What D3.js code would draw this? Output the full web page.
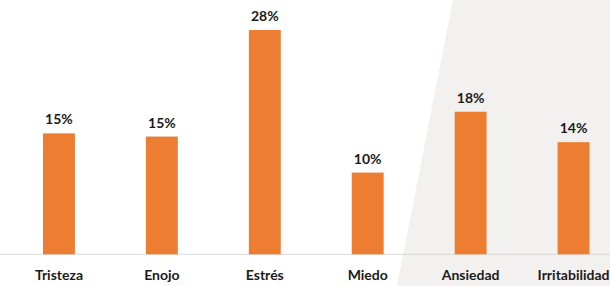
<!DOCTYPE html>
<html>
<head>
<meta charset="utf-8">
<script src="https://cdn.jsdelivr.net/npm/d3@7"></script>
<style>
  html, body { margin: 0; padding: 0; background: #fff; overflow: hidden; }
  text { font-family: Lato, "Open Sans", sans-serif; font-weight: bold; fill: #1b1b1b; }
</style>
</head>
<body>
<div id="chart"></div>
<script>
const categories = ["Tristeza", "Enojo", "Estrés", "Miedo", "Ansiedad", "Irritabilidad"];
const values = [15.1, 14.7, 28.0, 10.2, 17.8, 14.0];
const valueLabels = ["15%", "15%", "28%", "10%", "18%", "14%"];

const width = 610, height = 286;
const baseY = 254.3;

const svg = d3.select("#chart").append("svg")
  .attr("width", width)
  .attr("height", height);

// grey slanted panel in the background
svg.append("polygon")
  .attr("points", `453,0 ${width},0 ${width},${height} 397,${height}`)
  .attr("fill", "#f2f1f0");

const x = d3.scaleBand()
  .domain(categories)
  .range([7.5, 625])
  .paddingInner(0.69)
  .paddingOuter(0.345);

const y = d3.scaleLinear()
  .domain([0, 30])
  .range([baseY, baseY - 240.3]);

const data = categories.map((c, i) => ({ cat: c, v: values[i], label: valueLabels[i] }));

// baseline
svg.append("line")
  .attr("x1", 0).attr("x2", width)
  .attr("y1", baseY).attr("y2", baseY)
  .attr("stroke", "#d9d9d9")
  .attr("stroke-width", 1);

svg.append("g").selectAll("rect")
  .data(data)
  .join("rect")
  .attr("x", d => x(d.cat))
  .attr("width", x.bandwidth())
  .attr("y", d => y(d.v))
  .attr("height", d => y(0) - y(d.v))
  .attr("fill", "#ed7d31");

svg.append("g").selectAll("text")
  .data(data)
  .join("text")
  .attr("x", d => x(d.cat) + x.bandwidth() / 2)
  .attr("y", d => y(d.v) - 9)
  .attr("text-anchor", "middle")
  .attr("font-size", 14)
  .text(d => d.label);

const xAxis = d3.axisBottom(x).tickSize(0).tickPadding(16);
const ax = svg.append("g")
  .attr("transform", `translate(0,${baseY})`)
  .call(xAxis);
ax.select(".domain").remove();
ax.selectAll("text")
  .attr("font-size", 14)
  .style("font-family", "Lato, 'Open Sans', sans-serif")
  .style("font-weight", "bold")
  .attr("fill", "#1b1b1b");
</script>
</body>
</html>
